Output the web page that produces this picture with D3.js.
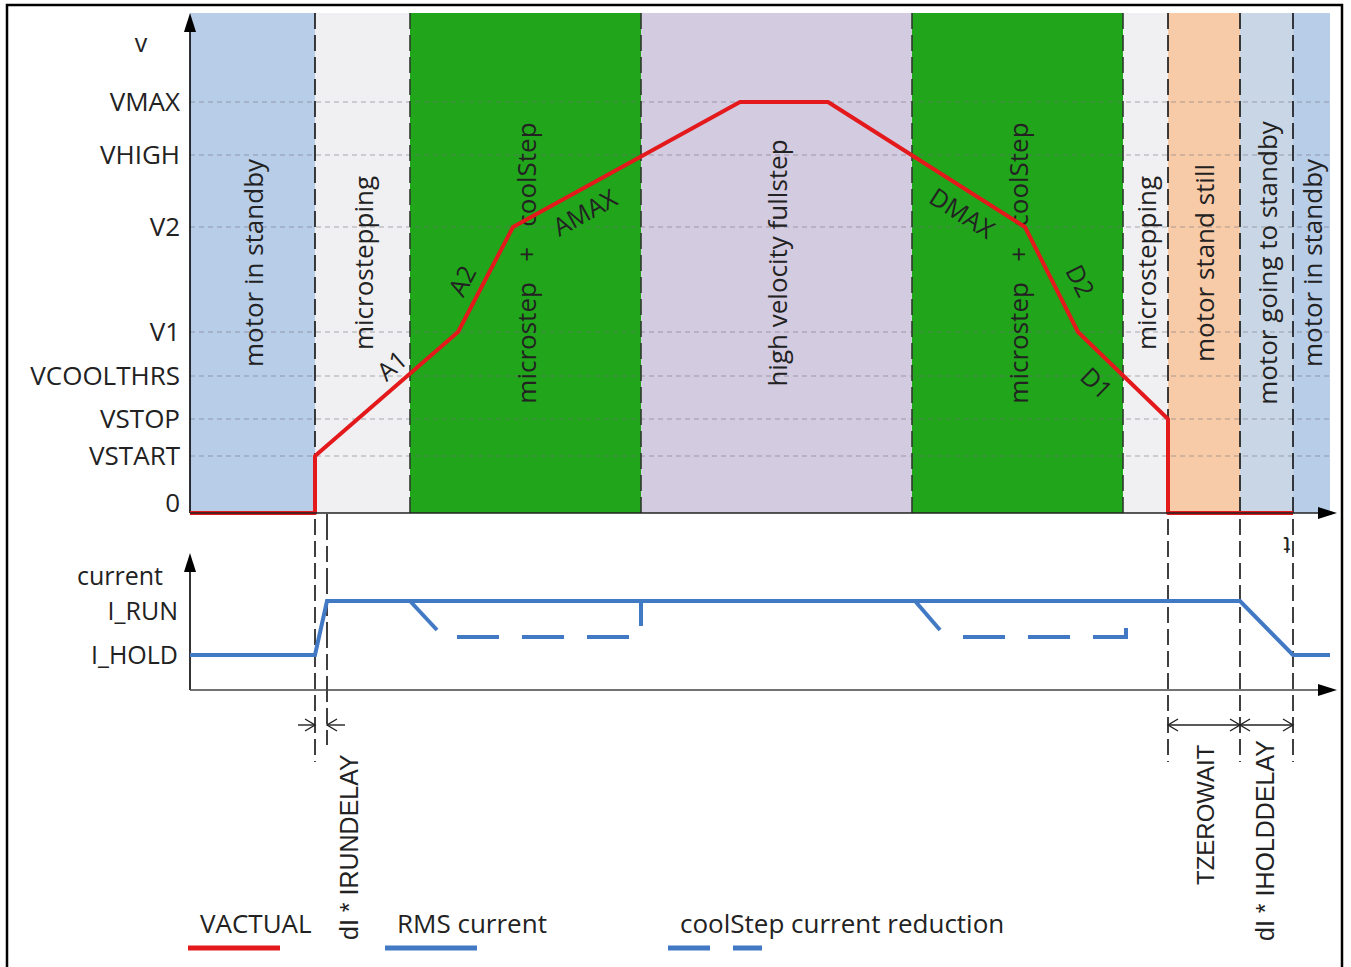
<!DOCTYPE html>
<html>
<head>
<meta charset="utf-8">
<title>velocity / current profile</title>
<script src="https://cdn.jsdelivr.net/npm/d3@7"></script>
<style>
  body { margin: 0; background: #fff; }
  svg text { font-family: "Open Sans", sans-serif; fill: #222; }
  .dim text { font-family: "Liberation Sans", Arial, sans-serif; }
</style>
</head>
<body>
<div id="chart"></div>
<script>
// ---- data ----
var vLevels = ["0", "VSTART", "VSTOP", "VCOOLTHRS", "V1", "V2", "VHIGH", "VMAX"];
var vValues = [0, 57, 94, 137, 181, 286, 358, 411];

var bandEdges = [0, 125, 220, 451, 722, 933, 978, 1050, 1103, 1140];
var bandNames = ["motor in standby", "microstepping", "microstep   +   coolStep",
                 "high velocity fullstep", "microstep   +   coolStep", "microstepping",
                 "motor stand still", "motor going to standby", "motor in standby"];
var bandColors = ["#b8cde8", "#f0f0f2", "#21a51b", "#d3cbe0", "#21a51b", "#f0f0f2",
                  "#f8cba8", "#c9d6e5", "#b8cde8"];

// VACTUAL profile (time, velocity)
var vactualT = [0, 125, 125, 268, 323, 550, 638, 835, 888, 978, 978, 1103];
var vactualV = [0, 0, 57, 181, 286, 411, 411, 286, 181, 94, 0, 0];
var slopeNames = ["A1", "A2", "AMAX", "DMAX", "D2", "D1"];
var slopeSeg = [2, 3, 4, 6, 7, 8];   // start index of the segment each ramp label belongs to

var iLevels = ["I_HOLD", "I_RUN"];
var iValues = [35, 89];

// RMS current (time, current)
var rmsT = [0, 125, 137, 1050, 1103, 1140];
var rmsI = [35, 35, 89, 89, 35, 35];

// coolStep reduction pieces
var coolDiagT = [[220, 247], [725, 750]];
var coolDiagI = [[89, 60], [89, 60]];
var coolDashT = [[267, 441], [773, 936, 936]];
var coolDashI = [[53, 53], [53, 53, 63]];
var coolBackT = [451];
var coolBackI = [[89, 64]];

var irunDelay = [125, 137];
var holdMarks = [978, 1050, 1103];
var holdNames = ["TZEROWAIT", "dI * IHOLDDELAY"];

var legendNames = ["VACTUAL", "RMS current", "coolStep current reduction"];

// ---- drawing ----
var W = 1351, H = 967;
var red = "#e3191c", blue = "#4279c4";

var svg = d3.select("#chart").append("svg")
    .attr("width", W).attr("height", H);

svg.append("rect").attr("x", 7).attr("y", 5).attr("width", 1335).attr("height", 980)
    .attr("fill", "#fff").attr("stroke", "#000").attr("stroke-width", 2.5);

var x = d3.scaleLinear().domain([0, 1145]).range([190, 1335]);
var yV = d3.scaleLinear().domain([0, 500]).range([513, 13]);
var yI = d3.scaleLinear().domain([0, 137]).range([690, 553]);

// bands
svg.selectAll("rect.band").data(bandNames).enter().append("rect")
    .attr("class", "band")
    .attr("x", function(d, i) { return x(bandEdges[i]); })
    .attr("y", yV(500))
    .attr("width", function(d, i) { return x(bandEdges[i + 1]) - x(bandEdges[i]); })
    .attr("height", yV(0) - yV(500))
    .attr("fill", function(d, i) { return bandColors[i]; });

// horizontal velocity grid
svg.selectAll("line.grid").data(vValues.slice(1)).enter().append("line")
    .attr("x1", x(0)).attr("x2", x(1140))
    .attr("y1", function(d) { return yV(d); }).attr("y2", function(d) { return yV(d); })
    .attr("stroke", "#6f6f7a").attr("stroke-opacity", 0.55)
    .attr("stroke-width", 1.2).attr("stroke-dasharray", "5,4");

// band boundaries inside the green regions
[bandEdges[2], bandEdges[3], bandEdges[4], bandEdges[5]].forEach(function(t) {
    svg.append("line").attr("x1", x(t)).attr("x2", x(t))
        .attr("y1", yV(500)).attr("y2", yV(0))
        .attr("stroke", "#2d3a2d").attr("stroke-width", 1.6).attr("stroke-dasharray", "16,6");
});
// long black boundaries reaching down into the time annotations
[bandEdges[1]].concat(holdMarks).forEach(function(t) {
    svg.append("line").attr("x1", x(t)).attr("x2", x(t))
        .attr("y1", yV(500)).attr("y2", 762)
        .attr("stroke", "#111").attr("stroke-width", 1.6).attr("stroke-dasharray", "16,6");
});
svg.append("line").attr("x1", x(irunDelay[1])).attr("x2", x(irunDelay[1]))
    .attr("y1", yV(0) + 1).attr("y2", 745)
    .attr("stroke", "#111").attr("stroke-width", 1.6).attr("stroke-dasharray", "26,6,16,6");

// band labels
svg.selectAll("text.band").data(bandNames).enter().append("text")
    .attr("transform", function(d, i) {
        return "translate(" + x((bandEdges[i] + bandEdges[i + 1]) / 2) + ",263) rotate(-90)";
    })
    .attr("text-anchor", "middle").attr("dominant-baseline", "central")
    .style("white-space", "pre").style("font-size", "26px")
    .text(function(d) { return d; });

// axes helpers
function arrowUp(xp, yTop) {
    svg.append("path").attr("d", "M" + xp + "," + yTop + " l-6,19 l12,0 z").attr("fill", "#000");
}
function arrowRight(xTip, yp) {
    svg.append("path").attr("d", "M" + xTip + "," + yp + " l-19,-6 l0,12 z").attr("fill", "#000");
}

// velocity axis
var gV = svg.append("g").attr("transform", "translate(" + x(0) + ",0)")
    .call(d3.axisLeft(yV).tickValues(vValues)
        .tickFormat(function(d, i) { return vLevels[i]; })
        .tickSize(0).tickPadding(10));
gV.select(".domain").remove();
gV.selectAll("text").style("font-size", "26px").style("font-family", "Open Sans").attr("fill", "#222")
    .attr("dy", function(d) { return d === 0 ? "-0.05em" : "0.34em"; });
svg.append("line").attr("x1", x(0)).attr("x2", x(0)).attr("y1", yV(0)).attr("y2", 28)
    .attr("stroke", "#000").attr("stroke-width", 1.6);
arrowUp(x(0), 13);
svg.append("text").attr("x", 141).attr("y", 42).attr("text-anchor", "middle")
    .attr("dominant-baseline", "central").style("font-size", "25px").text("v");

// VACTUAL
var lineV = d3.line().x(function(d) { return x(d[0]); }).y(function(d) { return yV(d[1]); });
svg.append("path").datum(d3.zip(vactualT, vactualV)).attr("d", lineV)
    .attr("fill", "none").attr("stroke", red).attr("stroke-width", 4)
    .attr("stroke-linejoin", "round");

svg.append("line").attr("x1", x(0)).attr("x2", 1320).attr("y1", yV(0)).attr("y2", yV(0))
    .attr("stroke", "#222").attr("stroke-width", 1.6);
arrowRight(1337, yV(0));

// ramp labels: [fraction along segment, normal offset]
var slopePlace = [[0.62, 19], [0.4, 21], [0.27, -21], [0.74, -21], [0.62, 26], [0.39, -23]];
slopeNames.forEach(function(name, k) {
    var i = slopeSeg[k];
    var x0 = x(vactualT[i]), y0 = yV(vactualV[i]);
    var x1 = x(vactualT[i + 1]), y1 = yV(vactualV[i + 1]);
    var dx = x1 - x0, dy = y1 - y0, len = Math.sqrt(dx * dx + dy * dy);
    var f = slopePlace[k][0], off = slopePlace[k][1];
    var px = x0 + dx * f + off * dy / len, py = y0 + dy * f - off * dx / len;
    svg.append("text")
        .attr("transform", "translate(" + px + "," + py + ") rotate(" + (Math.atan2(dy, dx) * 180 / Math.PI) + ")")
        .attr("text-anchor", "middle").attr("dominant-baseline", "central")
        .style("font-size", "25px").attr("fill", "#1a1a1a").text(name);
});

// current axis
var gI = svg.append("g").attr("transform", "translate(" + x(0) + ",0)")
    .call(d3.axisLeft(yI).tickValues(iValues)
        .tickFormat(function(d, i) { return iLevels[i]; })
        .tickSize(0).tickPadding(12));
gI.select(".domain").remove();
gI.selectAll("text").style("font-size", "25px").style("font-family", "Open Sans").attr("fill", "#222")
    .attr("dy", function(d) { return d === iValues[1] ? "0.72em" : "0.34em"; });
svg.append("line").attr("x1", x(0)).attr("x2", x(0)).attr("y1", yI(0)).attr("y2", 570)
    .attr("stroke", "#000").attr("stroke-width", 1.6);
arrowUp(x(0), 553);
svg.append("text").attr("x", 120).attr("y", 575).attr("text-anchor", "middle")
    .attr("dominant-baseline", "central").style("font-size", "25px").text("current");
svg.append("line").attr("x1", x(0)).attr("x2", 1320).attr("y1", yI(0)).attr("y2", yI(0))
    .attr("stroke", "#444").attr("stroke-width", 1.6);
arrowRight(1337, yI(0));

var lineI = d3.line().x(function(d) { return x(d[0]); }).y(function(d) { return yI(d[1]); });
svg.append("path").datum(d3.zip(rmsT, rmsI)).attr("d", lineI)
    .attr("fill", "none").attr("stroke", blue).attr("stroke-width", 4);
coolDiagT.forEach(function(ts, k) {
    svg.append("path").datum(d3.zip(ts, coolDiagI[k])).attr("d", lineI)
        .attr("fill", "none").attr("stroke", blue).attr("stroke-width", 4);
});
coolDashT.forEach(function(ts, k) {
    svg.append("path").datum(d3.zip(ts, coolDashI[k])).attr("d", lineI)
        .attr("fill", "none").attr("stroke", blue).attr("stroke-width", 4)
        .attr("stroke-dasharray", "42,23");
});
coolBackT.forEach(function(t, k) {
    svg.append("path").datum([[t, coolBackI[k][0]], [t, coolBackI[k][1]]]).attr("d", lineI)
        .attr("fill", "none").attr("stroke", blue).attr("stroke-width", 4);
});

// time "t" mark
svg.append("text").attr("transform", "translate(" + (x(1103) - 6) + ",545) rotate(180)")
    .attr("text-anchor", "middle").attr("dominant-baseline", "central")
    .style("font-size", "24px").style("font-family", "Liberation Sans").text("t");

// dimension annotations
var dim = svg.append("g").attr("class", "dim");
function head(xp, yp, dir) {
    dim.append("path").attr("d", "M" + (xp - dir * 10) + "," + (yp - 6) + " L" + xp + "," + yp +
        " L" + (xp - dir * 10) + "," + (yp + 6))
        .attr("fill", "none").attr("stroke", "#222").attr("stroke-width", 1.4);
}
var dimY = 725;
dim.append("line").attr("x1", x(irunDelay[0]) - 17).attr("x2", x(irunDelay[0]))
    .attr("y1", dimY).attr("y2", dimY).attr("stroke", "#222").attr("stroke-width", 1.4);
head(x(irunDelay[0]), dimY, 1);
dim.append("line").attr("x1", x(irunDelay[1])).attr("x2", x(irunDelay[1]) + 18)
    .attr("y1", dimY).attr("y2", dimY).attr("stroke", "#222").attr("stroke-width", 1.4);
head(x(irunDelay[1]), dimY, -1);
dim.append("text").attr("transform", "translate(" + (x(irunDelay[1]) + 22) + ",940) rotate(-90)")
    .attr("dominant-baseline", "central").style("font-size", "25px").text("dI * IRUNDELAY");

dim.append("line").attr("x1", x(holdMarks[0])).attr("x2", x(holdMarks[2]))
    .attr("y1", dimY).attr("y2", dimY).attr("stroke", "#222").attr("stroke-width", 1.4);
[0, 1].forEach(function(k) {
    head(x(holdMarks[k]), dimY, -1);
    head(x(holdMarks[k + 1]), dimY, 1);
    dim.append("text")
        .attr("transform", "translate(" + ((x(holdMarks[k]) + x(holdMarks[k + 1])) / 2 + (k ? -2 : 1)) + "," + (k ? 941 : 885) + ") rotate(-90)")
        .attr("dominant-baseline", "central").style("font-size", k ? "25px" : "24px").text(holdNames[k]);
});

// legend
var legX = [188, 385, 668];
legendNames.forEach(function(name, k) {
    svg.append("text").attr("x", legX[k] + 12).attr("y", 923)
        .attr("dominant-baseline", "central").style("font-size", "26px").text(name);
    svg.append("line").attr("x1", legX[k]).attr("x2", legX[k] + (k === 2 ? 94 : 92))
        .attr("y1", 948).attr("y2", 948)
        .attr("stroke", k === 0 ? red : blue).attr("stroke-width", 5)
        .attr("stroke-dasharray", k === 2 ? "42,23" : null);
});
</script>
</body>
</html>
